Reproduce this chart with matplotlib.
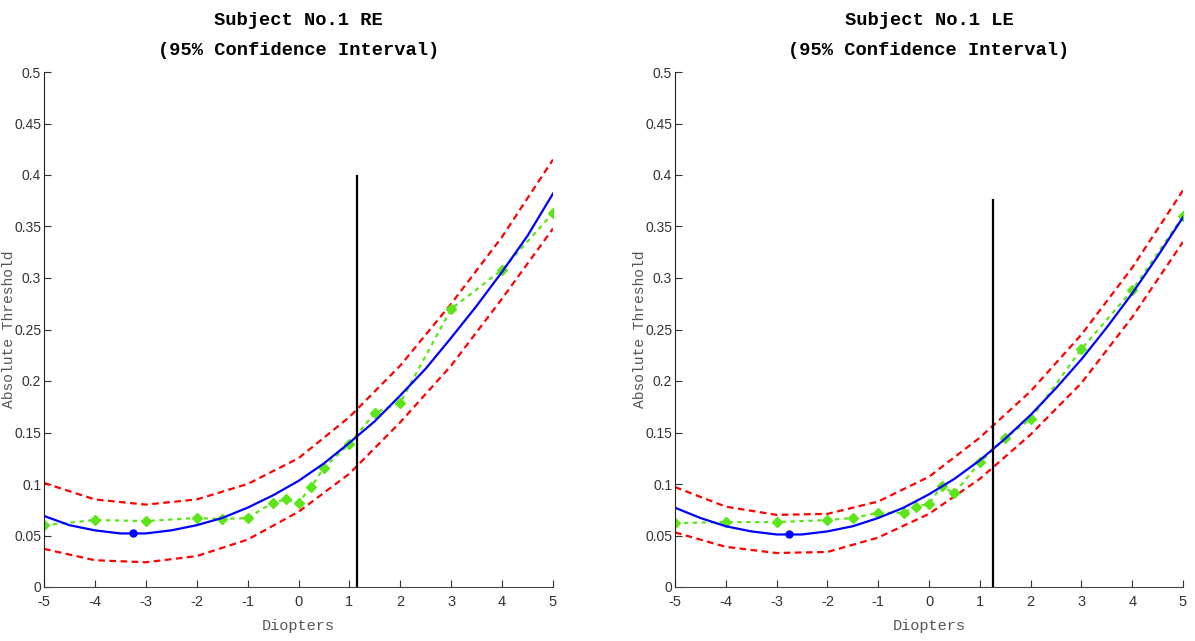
import numpy as np
import matplotlib
matplotlib.use("Agg")
import matplotlib.pyplot as plt

plt.rcParams["axes.unicode_minus"] = False

# fitted curve sampled every 0.5 D
fit_x = [-5, -4.5, -4, -3.5, -3, -2.5, -2, -1.5, -1, -0.5, 0,
         0.5, 1, 1.5, 2, 2.5, 3, 3.5, 4, 4.5, 5]
re_fit = [0.069, 0.060, 0.055, 0.052, 0.052, 0.055, 0.060, 0.067, 0.077, 0.089, 0.103,
          0.120, 0.140, 0.161, 0.186, 0.212, 0.242, 0.273, 0.306, 0.341, 0.382]
le_fit = [0.077, 0.067, 0.059, 0.054, 0.051, 0.051, 0.054, 0.059, 0.067, 0.077, 0.090,
          0.105, 0.123, 0.144, 0.167, 0.193, 0.221, 0.252, 0.285, 0.321, 0.359]

# confidence bounds sampled every 1 D
ci_x = [-5, -4, -3, -2, -1, 0, 1, 2, 3, 4, 5]
re_upper = [0.101, 0.085, 0.080, 0.085, 0.100, 0.125, 0.165, 0.215, 0.275, 0.340, 0.415]
re_lower = [0.037, 0.026, 0.024, 0.030, 0.046, 0.073, 0.110, 0.160, 0.215, 0.280, 0.348]
le_upper = [0.097, 0.078, 0.070, 0.071, 0.083, 0.107, 0.145, 0.190, 0.245, 0.310, 0.385]
le_lower = [0.053, 0.039, 0.033, 0.034, 0.048, 0.071, 0.105, 0.148, 0.198, 0.262, 0.335]

# measured thresholds
meas_x = [-5, -4, -3, -2, -1.5, -1, -0.5, -0.25, 0, 0.25, 0.5, 1, 1.5, 2, 3, 4, 5]
re_meas = [0.060, 0.065, 0.064, 0.067, 0.066, 0.067, 0.082, 0.085, 0.082, 0.097,
           0.116, 0.139, 0.169, 0.179, 0.270, 0.308, 0.363]
le_meas = [0.062, 0.063, 0.063, 0.065, 0.067, 0.072, 0.072, 0.078, 0.081, 0.098,
           0.091, 0.121, 0.145, 0.163, 0.231, 0.288, 0.360]

# minimum of fit and the vertical marker
re_min = (-3.25, 0.052)
le_min = (-2.75, 0.051)
re_vline = (1.15, 0.399)
le_vline = (1.25, 0.376)

titles = ["Subject No.1 RE", "Subject No.1 LE"]

fig = plt.figure(figsize=(11.95, 6.41), dpi=100)
W, H = 1195.0, 641.0
boxes = [[44 / W, 54 / H, 509 / W, 515 / H],
         [675 / W, 54 / H, 508 / W, 515 / H]]
# right edge of the rotated y label
ylab_x = [(16 - 44) / 509.0, (647 - 675) / 508.0]

panels = [(re_fit, re_upper, re_lower, re_meas, re_min, re_vline),
          (le_fit, le_upper, le_lower, le_meas, le_min, le_vline)]

green = "#5ce619"
for i, (box, title, (fit, up, lo, meas, mn, vl)) in enumerate(zip(boxes, titles, panels)):
    ax = fig.add_axes(box)
    ax.plot(ci_x, up, "--", color="#ff0000", lw=1.6, dashes=(3, 2))
    ax.plot(ci_x, lo, "--", color="#ff0000", lw=1.6, dashes=(3, 2))
    ax.plot(meas_x, meas, "--", color=green, lw=1.6, dashes=(2, 2), marker="D",
            ms=5.5, mec=green, mfc=green)
    ax.plot(fit_x, fit, "-", color="#0000ff", lw=1.6)
    ax.plot([mn[0]], [mn[1]], "o", color="#0000ff", ms=5)
    ax.plot([vl[0], vl[0]], [0, vl[1]], "-", color="black", lw=1.6)

    ax.set_xlim(-5, 5)
    ax.set_ylim(0, 0.5)
    ax.set_xticks(range(-5, 6))
    ax.set_yticks(np.arange(0, 0.51, 0.05))
    ax.set_yticklabels(["0", "0.05", "0.1", "0.15", "0.2", "0.25", "0.3",
                        "0.35", "0.4", "0.45", "0.5"])
    for s in ["top", "right"]:
        ax.spines[s].set_visible(False)
    ax.spines["left"].set_color("#222222")
    ax.spines["bottom"].set_color("#444444")
    ax.tick_params(direction="in", length=5, labelsize=10.5, colors="#333333")
    ax.tick_params(axis="x", pad=6)
    ax.tick_params(axis="y", pad=2, labelsize=10)
    for lab in ax.get_xticklabels() + ax.get_yticklabels():
        lab.set_fontfamily("Liberation Sans")
    ax.set_xlabel("Diopters", family="Liberation Mono", fontsize=11,
                  color="#555555", labelpad=7)
    ax.set_ylabel("Absolute Threshold", family="Liberation Mono", fontsize=10.5,
                  color="#555555")
    ax.yaxis.set_label_coords(ylab_x[i], 0.5)
    ax.set_title(title + "\n(95% Confidence Interval)", family="Liberation Mono",
                 fontweight="bold", fontsize=13.5, linespacing=2.0, pad=12)

fig.savefig("out.png", dpi=100, facecolor="white")
